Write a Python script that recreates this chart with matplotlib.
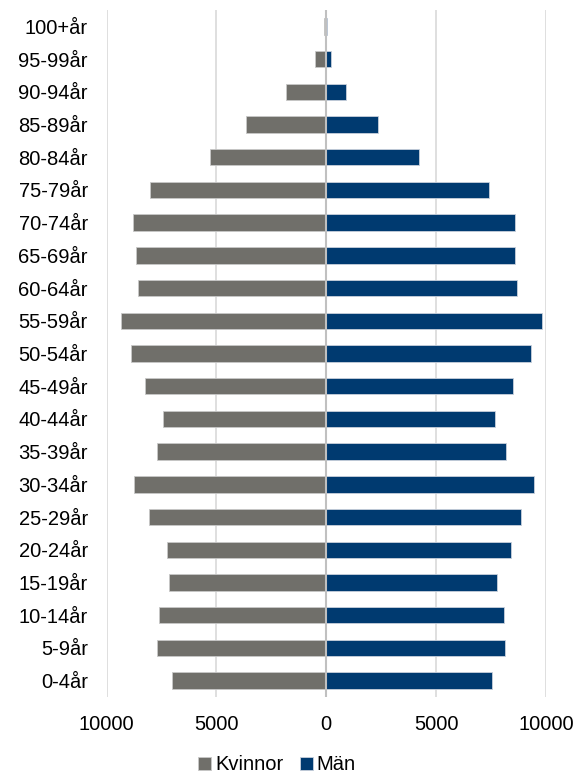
import numpy as np
import matplotlib
matplotlib.use("Agg")
import matplotlib.pyplot as plt
from matplotlib.ticker import FuncFormatter

plt.rcParams['font.family'] = ['Liberation Sans', 'DejaVu Sans']

# age groups, youngest first (bottom of the pyramid)
ages = ["0-4år", "5-9år", "10-14år", "15-19år", "20-24år", "25-29år", "30-34år",
        "35-39år", "40-44år", "45-49år", "50-54år", "55-59år", "60-64år", "65-69år",
        "70-74år", "75-79år", "80-84år", "85-89år", "90-94år", "95-99år", "100+år"]
kvinnor = [7030, 7710, 7600, 7150, 7270, 8080, 8760,
           7700, 7450, 8270, 8880, 9330, 8560, 8680,
           8790, 8030, 5280, 3630, 1820, 520, 80]
man = [7540, 8150, 8090, 7770, 8410, 8850, 9470,
       8200, 7700, 8490, 9320, 9810, 8670, 8610,
       8610, 7420, 4220, 2350, 900, 200, 30]

grey = "#706f6a"
navy = "#003a70"
fs = 14.5

fig = plt.figure(figsize=(5.78, 7.74), dpi=100)
ax = fig.add_axes([0.1843, 0.0995, 0.7603, 0.8876])

y = np.arange(len(ages))
ax.barh(y, -np.array(kvinnor), height=0.5, color=grey, edgecolor="#c8c8c8",
        linewidth=0.6, label="Kvinnor", zorder=3)
ax.barh(y, man, height=0.5, color=navy, edgecolor="#c8d0dc",
        linewidth=0.6, label="Män", zorder=3)
ax.axvline(0, color="#c0c0c0", lw=1.5, zorder=4)

ax.set_xlim(-10000, 10000)
ax.set_ylim(-0.5, len(ages) - 0.5)
ax.set_xticks([-10000, -5000, 0, 5000, 10000])
ax.xaxis.set_major_formatter(FuncFormatter(lambda v, p: f"{abs(int(v))}"))
ax.set_yticks(y)
ax.set_yticklabels(ages)
ax.grid(axis="x", color="#d9d9d9", lw=1.2, zorder=0)
for s in ax.spines.values():
    s.set_visible(False)
ax.tick_params(axis="x", length=0, pad=13, labelsize=fs, labelcolor="#000000")
ax.tick_params(axis="y", length=0, pad=13.5, labelsize=fs, labelcolor="#000000")

fig.legend(loc="center", bbox_to_anchor=(277 / 578, 1 - 765 / 774), ncol=2,
           frameon=False, fontsize=fs, handlelength=0.65, handleheight=0.65,
           handletextpad=0.2, columnspacing=0.8)

fig.savefig("out.png", dpi=100)
